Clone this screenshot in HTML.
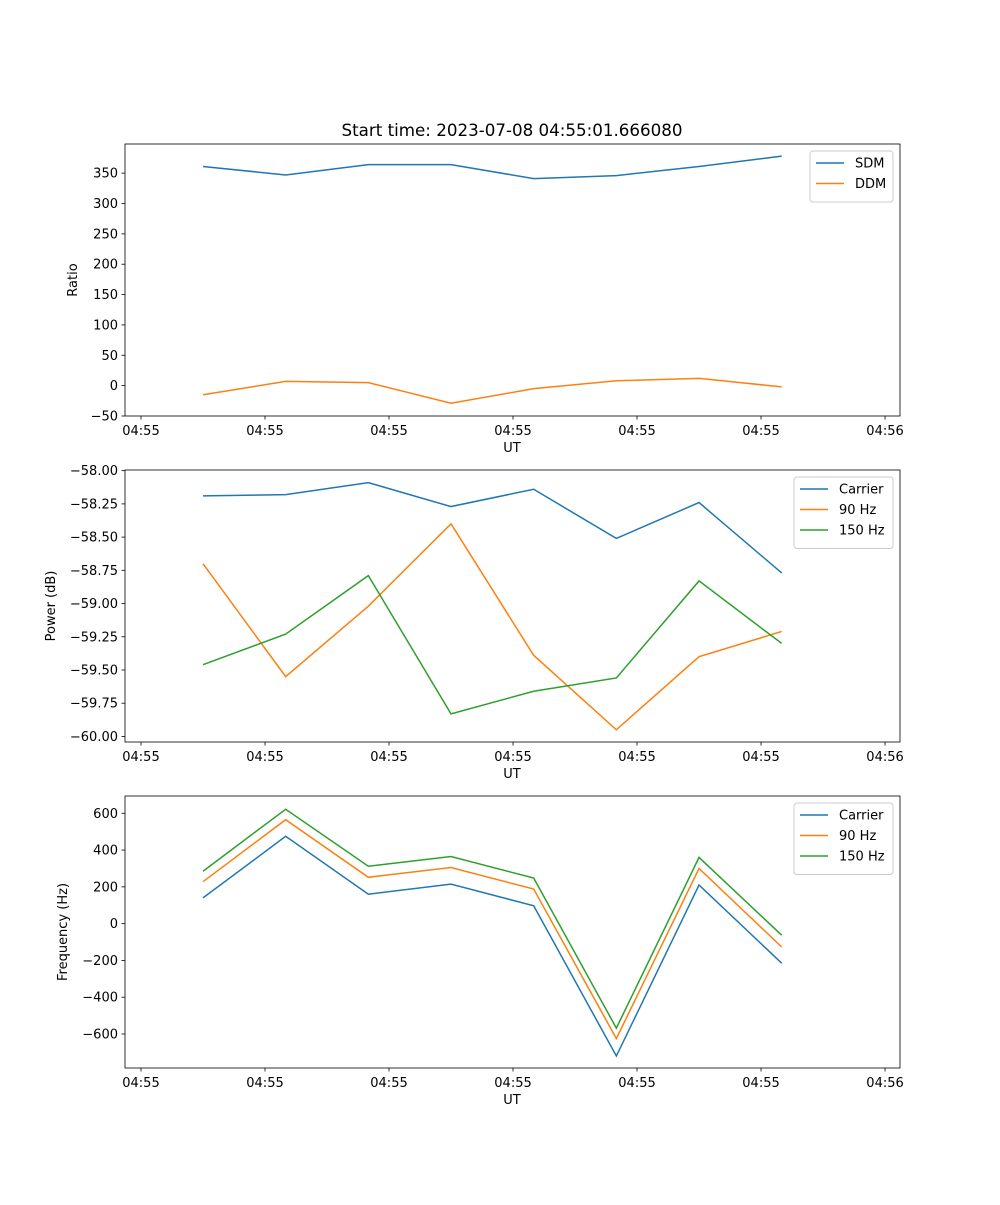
<!DOCTYPE html>
<html><head><meta charset="utf-8"><style>
body{margin:0;background:#fff;}
svg text{font-family:"DejaVu Sans","Liberation Sans",sans-serif;fill:#000;}
</style></head><body>
<svg id="fig" width="1000" height="1200" xmlns="http://www.w3.org/2000/svg">
<rect width="1000" height="1200" fill="#fff"/>
<text x="512" y="136" font-size="16.7" text-anchor="middle">Start time: 2023-07-08 04:55:01.666080</text>
</svg>
<script>
const xTickPos=[-0.75,0.75,2.25,3.75,5.25,6.75,8.25];
const xTickLabels=["04:55","04:55","04:55","04:55","04:55","04:55","04:56"];
const idx=[0,1,2,3,4,5,6,7];
const sdm=[361,347,364,364,341,346,361,378];
const ddm=[-15,7,5,-29,-5,8,12,-2];
const pCarrier=[-58.19,-58.18,-58.09,-58.27,-58.14,-58.51,-58.24,-58.77];
const p90=[-58.70,-59.55,-59.02,-58.40,-59.39,-59.95,-59.40,-59.21];
const p150=[-59.46,-59.23,-58.79,-59.83,-59.66,-59.56,-58.83,-59.30];
const fCarrier=[140,475,160,215,97,-720,210,-215];
const f90=[228,565,252,305,188,-625,300,-127];
const f150=[285,622,312,365,248,-568,360,-63];
const ticks1=[-50,0,50,100,150,200,250,300,350];
const ticks2=[-60,-59.75,-59.5,-59.25,-59,-58.75,-58.5,-58.25,-58];
const ticks3=[-600,-400,-200,0,200,400,600];
const C=['#1f77b4','#ff7f0e','#2ca02c'];
const NS='http://www.w3.org/2000/svg';
const svg=document.getElementById('fig');
function mk(t,a,p){const e=document.createElementNS(NS,t);for(const k in a)e.setAttribute(k,a[k]);(p||svg).appendChild(e);return e;}
const X0=125,X1=900,XMIN=-0.9435,XMAX=8.431;
const xs=v=>X0+(v-XMIN)/(XMAX-XMIN)*(X1-X0);
function fmt(v,d){let s=v.toFixed(d);return s.replace('-','\u2212');}
function panel(name,top,bot,ymin,ymax,ticks,dec,ylabel,series,labels,legW){
  const g=mk('g',{});
  
  
  const ys=v=>bot-(v-ymin)/(ymax-ymin)*(bot-top);
  ticks.forEach(t=>{const y=ys(t);
    const l=mk('line',{x1:X0-3.5,x2:X0,y1:y,y2:y,stroke:'#000','stroke-width':0.8},g);
    
    const tx=mk('text',{x:X0-7,y:y+4.5,'font-size':13,'text-anchor':'end'},g);tx.textContent=fmt(t,dec);
    });
  xTickPos.forEach((t,i)=>{const x=xs(t);
    const l=mk('line',{x1:x,x2:x,y1:bot,y2:bot+3.5,stroke:'#000','stroke-width':0.8},g);
    
    const tx=mk('text',{x:x,y:bot+19,'font-size':13,'text-anchor':'middle'},g);tx.textContent=xTickLabels[i];
    });
  const xl=mk('text',{x:512,y:bot+36,'font-size':13,'text-anchor':'middle'},g);xl.textContent='UT';
  
  const yl=mk('text',{x:0,y:0,'font-size':13,'text-anchor':'middle',transform:`translate(${ylabel[1]},${(top+bot)/2}) rotate(-90)`},g);yl.textContent=ylabel[0];
  
  series.forEach((s,k)=>{
    const p=mk('polyline',{points:s.map((v,i)=>xs(idx[i])+','+ys(v)).join(' '),fill:'none',stroke:C[k],'stroke-width':1.5},g);
    
    });
  const fr=mk('rect',{x:X0,y:top,width:X1-X0,height:bot-top,fill:'none',stroke:'#000','stroke-width':0.8},g);
  
  const lx=X1-7-legW,ly=top+7,lh=10+labels.length*20.5;
  const lg=mk('g',{},g);
  
  mk('rect',{x:lx,y:ly,width:legW,height:lh,rx:3,fill:'#fff',stroke:'#ccc','stroke-width':1},lg);
  labels.forEach((lab,k)=>{const y=ly+12+k*20.5;
    mk('line',{x1:lx+6,x2:lx+34,y1:y,y2:y,stroke:C[k],'stroke-width':1.5},lg);
    const t=mk('text',{x:lx+45,y:y+4.5,'font-size':13},lg);t.textContent=lab;
    });
}
panel('ratio-panel',144,416,-50,398,ticks1,0,['Ratio',77],[sdm,ddm],['SDM','DDM'],83);
panel('power-panel',470,742,-60.042,-57.995,ticks2,2,['Power (dB)',55],[pCarrier,p90,p150],['Carrier','90 Hz','150 Hz'],99);
panel('frequency-panel',796,1068,-785,694,ticks3,0,['Frequency (Hz)',67],[fCarrier,f90,f150],['Carrier','90 Hz','150 Hz'],99);
</script>
</body></html>
